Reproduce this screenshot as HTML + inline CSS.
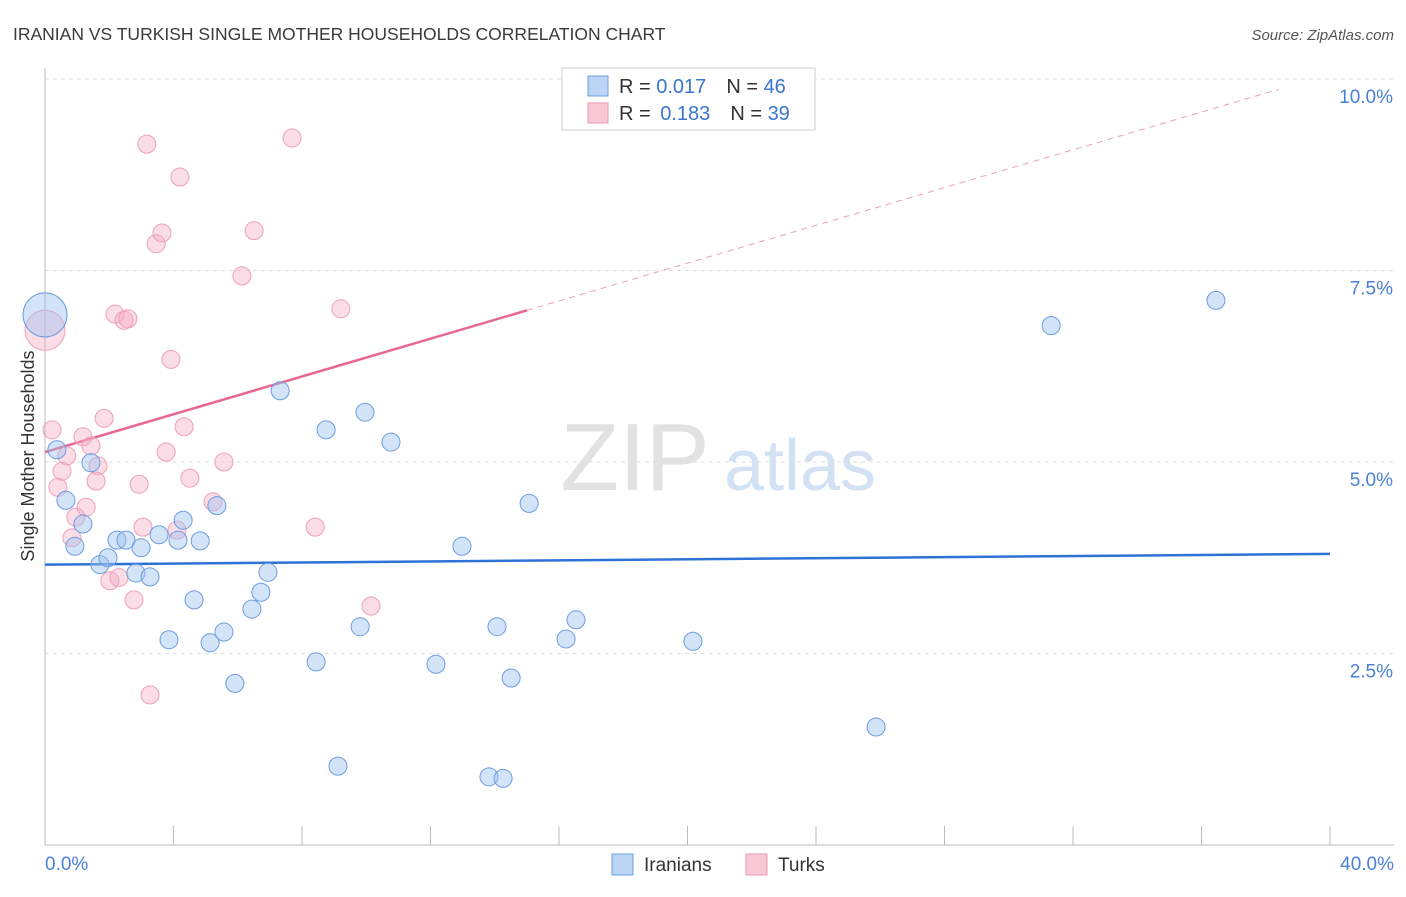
<!DOCTYPE html>
<html><head><meta charset="utf-8"><style>
body{margin:0;background:#fff;font-family:"Liberation Sans",sans-serif;}
svg text{font-family:"Liberation Sans",sans-serif;}
</style></head><body>
<svg id="chart" width="1406" height="892" xmlns="http://www.w3.org/2000/svg">
<text x="13" y="40" font-size="17.5" fill="#3a3a3a">IRANIAN VS TURKISH SINGLE MOTHER HOUSEHOLDS CORRELATION CHART</text>
<text x="1394" y="40" font-size="15" fill="#555" text-anchor="end" font-style="italic">Source: ZipAtlas.com</text>
<g>
<text x="635" y="490" font-size="96" fill="#e2e2e2" font-family="Liberation Serif" text-anchor="middle">ZIP</text>
<text x="800" y="490" font-size="72" fill="#d3e1f5" text-anchor="middle">atlas</text>
</g>
<g id="grid"></g>
<g id="axes"></g>
<g id="lines"></g>
<g id="points"></g>
<text transform="translate(34,456) rotate(-90)" font-size="18" fill="#333" text-anchor="middle">Single Mother Households</text>
<g>
<rect x="562" y="68" width="253" height="62" fill="#fff" stroke="#ccc"/>
<rect x="588" y="76" width="20" height="20" fill="#bcd5f5" stroke="#6e9ee0"/>
<rect x="588" y="103" width="20" height="20" fill="#f9c8d6" stroke="#e89ab2"/>
<text x="619" y="93" font-size="20" fill="#333">R = <tspan fill="#3a75d0">0.017</tspan><tspan dx="20">N = </tspan><tspan fill="#3a75d0">46</tspan></text>
<text x="619" y="120" font-size="20" fill="#333">R = <tspan dx="4" fill="#3a75d0">0.183</tspan><tspan dx="20">N = </tspan><tspan fill="#3a75d0">39</tspan></text>
</g>
<g>
<rect x="612" y="854" width="21" height="21" fill="#bcd5f5" stroke="#6e9ee0"/>
<text x="644" y="871" font-size="19" fill="#333">Iranians</text>
<rect x="746" y="854" width="21" height="21" fill="#f9c8d6" stroke="#e89ab2"/>
<text x="778" y="871" font-size="19" fill="#333">Turks</text>
</g>
</svg>
<script>
const yTicks=[2.5,5.0,7.5,10.0];
const yTickLabels=["2.5%","5.0%","7.5%","10.0%"];
const xTickLabels=["0.0%","40.0%"];
const iranX=[0,0.37,0.65,1.18,0.93,1.43,1.71,1.96,2.24,2.52,2.99,2.83,3.27,3.55,3.86,4.14,4.30,4.64,4.83,5.14,5.35,5.57,5.91,6.44,6.72,6.94,7.32,8.44,8.75,9.12,9.81,9.96,10.77,12.17,12.98,13.82,14.07,14.26,14.51,15.07,16.22,16.53,20.17,25.87,31.32,36.45];
const iranY=[6.92,5.16,4.50,4.19,3.90,4.99,3.66,3.75,3.98,3.98,3.88,3.55,3.50,4.05,2.68,3.98,4.24,3.20,3.97,2.64,4.43,2.78,2.11,3.08,3.30,3.56,5.93,2.39,5.42,1.03,2.85,5.65,5.26,2.36,3.90,0.89,2.85,0.87,2.18,4.46,2.69,2.94,2.66,1.54,6.78,7.11];
const turkX=[0,0.22,0.68,0.40,0.53,0.84,0.96,1.18,1.43,1.65,1.59,1.28,1.84,2.02,2.30,2.18,2.46,2.58,2.77,2.93,3.05,3.17,3.27,3.46,3.64,3.77,3.92,4.11,4.20,4.33,4.51,5.23,5.57,6.13,6.51,7.69,8.41,9.21,10.15];
const turkY=[6.72,5.42,5.08,4.67,4.88,4.01,4.28,5.33,5.21,4.95,4.75,4.41,5.57,3.45,3.49,6.93,6.85,6.87,3.20,4.71,4.15,9.15,1.96,7.85,7.99,5.13,6.34,4.11,8.72,5.46,4.79,4.48,5.00,7.43,8.02,9.23,4.15,7.00,3.12];
const iranTrend=[3.66,3.80];
const turkTrend=[5.13,0.1233];
const NS="http://www.w3.org/2000/svg";
const X=v=>45+v/40*1285, Y=v=>845-v/2.5*191.5;
function mk(p,t,a){const e=document.createElementNS(NS,t);for(const k in a)e.setAttribute(k,a[k]);p.appendChild(e);return e;}
const g=document.getElementById('grid'),ax=document.getElementById('axes'),ln=document.getElementById('lines'),pt=document.getElementById('points');
yTicks.forEach((t,i)=>{
 const l=mk(g,'line',{x1:45,x2:1394,y1:Y(t),y2:Y(t),stroke:'#ddd','stroke-dasharray':'4,4'});
 
 
 const tx=mk(ax,'text',{x:1393,y:Y(t)+24,'font-size':19,fill:'#4a80d6','text-anchor':'end'});
 tx.textContent=yTickLabels[i];
 
 
});
let a=mk(ax,'line',{x1:45,x2:45,y1:68,y2:845,stroke:'#bbb'});


a=mk(ax,'line',{x1:45,x2:1394,y1:845,y2:845,stroke:'#bbb'});


for(let i=0;i<=10;i++){
 const t=mk(ax,'line',{x1:X(i*4),x2:X(i*4),y1:826,y2:845,stroke:'#bbb'});
 
 
}
[[0,'start',45],[40,'end',1394]].forEach((d,i)=>{
 const tx=mk(ax,'text',{x:d[2],y:870,'font-size':19,fill:'#4a80d6','text-anchor':d[1]});
 tx.textContent=xTickLabels[i];
 
 
});
turkX.forEach((x,i)=>{
 const c=mk(pt,'circle',{cx:X(x),cy:Y(turkY[i]),r:i==0?20:9,fill:'rgba(246,170,195,0.4)',stroke:'#eea0b8','stroke-width':1});
 
 
});
iranX.forEach((x,i)=>{
 const c=mk(pt,'circle',{cx:X(x),cy:Y(iranY[i]),r:i==0?22:9,fill:'rgba(160,195,240,0.45)',stroke:'#6b9de0','stroke-width':1});
 
 
});
let l=mk(ln,'line',{x1:X(0),y1:Y(iranTrend[0]),x2:X(40),y2:Y(iranTrend[1]),stroke:'#2f72d6','stroke-width':2.5});


l=mk(ln,'line',{x1:X(0),y1:Y(turkTrend[0]),x2:X(15),y2:Y(turkTrend[0]+turkTrend[1]*15),stroke:'#e8668f','stroke-width':2.5});


l=mk(ln,'line',{x1:X(15),y1:Y(turkTrend[0]+turkTrend[1]*15),x2:X(38.4),y2:Y(turkTrend[0]+turkTrend[1]*38.4),stroke:'#e8a0b5','stroke-width':1,'stroke-dasharray':'6,5'});


</script>
</body></html>
